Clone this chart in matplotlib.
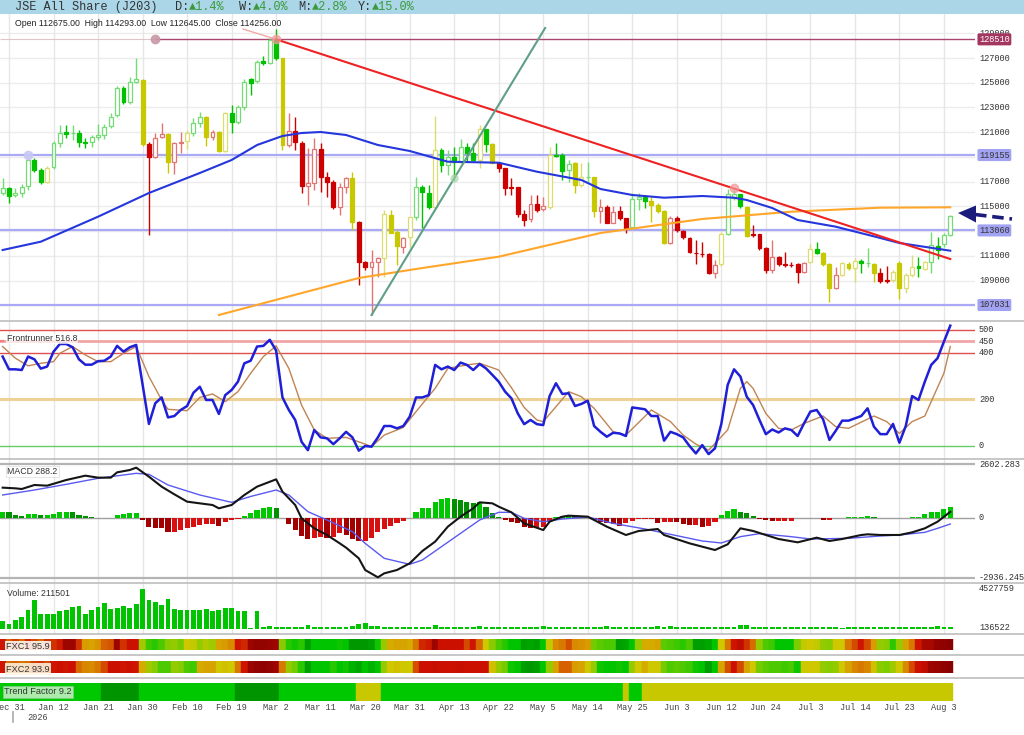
import numpy as np
import matplotlib
matplotlib.use("Agg")
import matplotlib.pyplot as plt
from matplotlib.colors import LinearSegmentedColormap
from matplotlib.lines import Line2D
from matplotlib.patches import Rectangle, Polygon

# ---------------- data ----------------
opens = [116059, 116463, 115924, 116113, 116679, 118754, 117946, 117002, 118160, 120155,
         121000, 120900, 120910, 120200, 120180, 120586, 120775, 121500, 122392, 124600,
         123470, 125087, 125222, 120047, 118970, 120586, 120830, 118619, 120100, 120317,
         120910, 121773, 122204, 120640, 121018, 119482, 122527, 121853, 123011, 125280,
         125168, 126760, 126623, 128456, 126974, 119966, 121126, 120155, 116679, 116867,
         119617, 117407, 117002, 114980, 116598, 117272, 113769, 110535, 110077, 110535,
         110804, 114307, 112900, 111747, 112502, 114173, 116598, 116113, 114981, 119563,
         118350, 118970, 118619, 119778, 119347, 118754, 121234, 120047, 118538, 118080,
         116598, 116544, 114388, 113957, 115196, 114765, 114981, 119158, 119158, 117946,
         118484, 116733, 117352, 117352, 114630, 114927, 113634, 114630, 114038, 113300,
         115600, 115735, 115439, 115089, 114630, 112070, 114038, 113014, 112421, 111262,
         111181, 111127, 109645, 110319, 112771, 115655, 115979, 114981, 112771, 112771,
         111666, 109860, 110938, 110346, 110300, 110346, 109672, 110480, 111531, 111208,
         110346, 108378, 109456, 110346, 110050, 110588, 110400, 110346, 109600, 109050,
         109052, 110454, 108378, 109456, 110184, 109914, 110534, 111828, 111963, 112675]
highs = [117272, 116600, 116463, 116786, 119158, 118900, 118100, 118300, 120300, 121584,
         121584, 121584, 121180, 120500, 120775, 121665, 121700, 122527, 124700, 124700,
         125492, 126974, 125300, 120200, 120910, 121773, 120900, 120236, 121045, 121180,
         122177, 122662, 122300, 121180, 121100, 122600, 123200, 123200, 125300, 125356,
         126840, 127200, 128726, 129318, 127000, 122527, 122257, 120300, 119697, 120506,
         120100, 117811, 117100, 116867, 117407, 117811, 113800, 110600, 111478, 110940,
         114711, 114711, 113094, 112556, 114173, 117400, 116700, 116733, 122311, 119700,
         119563, 119832, 120425, 120100, 120100, 121584, 121300, 120100, 118600, 118100,
         117272, 116600, 114711, 115924, 115924, 115790, 119832, 120100, 119300, 118754,
         118600, 118484, 118619, 117400, 115574, 115116, 115035, 115035, 114100, 116100,
         116110, 115924, 115790, 115250, 114700, 114200, 114200, 113094, 112556, 112286,
         112151, 111200, 110669, 112900, 116382, 116463, 116000, 115000, 113500, 112800,
         111700, 112286, 111000, 111343, 110500, 110400, 110500, 111963, 112151, 111300,
         110400, 110130, 110500, 110500, 110800, 110723, 111612, 110400, 110000, 110184,
         109860, 110600, 109600, 111073, 110939, 110600, 112960, 112556, 112825, 114293]
lows = [115924, 115300, 115790, 115790, 116328, 117800, 116800, 116900, 118000, 119832,
        120500, 120370, 119830, 119700, 119830, 120400, 120430, 121315, 122200, 123300,
        123300, 125000, 119900, 112700, 118900, 120500, 117676, 117622, 119293, 119617,
        120700, 121450, 119887, 120370, 119400, 119400, 120910, 121700, 122800, 124000,
        125000, 126400, 126500, 126800, 119600, 119832, 119563, 116059, 115116, 116328,
        116193, 115790, 114800, 114307, 116059, 113094, 108648, 109900, 106222, 109322,
        109322, 112825, 110266, 111208, 111747, 113900, 113229, 114800, 114800, 117811,
        117541, 117137, 118484, 118619, 118619, 118080, 119428, 118484, 117811, 115924,
        115924, 114173, 113418, 113768, 114577, 114657, 114765, 119020, 117137, 117002,
        116059, 116598, 117002, 114173, 113687, 113634, 113634, 113903, 112825, 113200,
        114700, 114846, 113768, 114441, 112000, 112000, 112900, 112400, 111208, 110346,
        110940, 109500, 109187, 110200, 112700, 115500, 114900, 112500, 112555, 111500,
        109591, 109591, 110200, 110130, 110100, 108782, 109591, 110400, 111154, 110200,
        107246, 108300, 109400, 109900, 108918, 109645, 110130, 108918, 108782, 108782,
        108900, 107489, 107974, 109300, 109321, 109860, 109591, 110723, 111747, 112645]
closes = [116463, 115870, 116113, 116598, 118754, 117946, 117002, 118080, 120155, 120964,
          120860, 120920, 120236, 120150, 120586, 120775, 121450, 122257, 124548, 123470,
          125087, 125280, 120047, 119024, 120506, 120830, 118619, 120100, 120236, 120900,
          121773, 122204, 120586, 121000, 119482, 122527, 121853, 123011, 125087, 125000,
          126704, 126623, 128456, 126974, 119966, 121126, 120236, 116679, 116867, 119617,
          117407, 116948, 114927, 116598, 117272, 113769, 110535, 110077, 110481, 110858,
          114388, 112879, 111828, 112421, 114119, 116598, 116194, 114981, 119563, 118350,
          118970, 118619, 119778, 119293, 118754, 121234, 120047, 118538, 118080, 116463,
          116463, 114388, 113903, 115196, 114711, 115035, 119158, 119100, 117864, 118404,
          116733, 117352, 117380, 114630, 114927, 113687, 114577, 114038, 113229, 115600,
          115750, 115466, 115089, 114657, 112070, 114038, 113094, 112502, 111343, 111208,
          111154, 109645, 110265, 112771, 116005, 115979, 115035, 112610, 112718, 111666,
          109860, 110938, 110346, 110300, 110260, 109672, 110453, 111531, 111208, 110346,
          108378, 109456, 110400, 110050, 110588, 110400, 110420, 109645, 108998, 108998,
          109726, 108378, 109456, 110130, 109995, 110480, 111882, 111477, 112690, 114256]
candle_trend = ("gggggggygg" "gggggggggg" "ggyrrryrry" "ggyryygggg" "ggggyrrrrr"
                "rrrrryrrrr" "yyyrygggyg" "gggggygyrr" "rrrrrryggg" "yygyrrrrrg"
                "ggyyyrrrrr" "rrrygggyrr" "rrrrrrrygy" "yryyyggyrr" "yyyygygggg")

# moving averages (bar index, value) read at line vertices
ma50_idx = [0, 6, 15, 23, 31, 36, 40, 44, 47, 50, 54, 59, 64, 70, 78, 84, 91, 94, 99, 104,
            110, 115, 117, 121, 125, 131, 138, 141, 149]
ma50_val = [111478, 112149, 114170, 116086, 117703, 118754, 119967, 120695, 120937, 121018,
            120775, 119967, 119482, 118616, 118536, 117808, 117137, 116409, 115924, 115706,
            115843, 115706, 115520, 114873, 113903, 113361, 112447, 112043, 111420]
ma200_idx = [34, 47, 56, 66, 78, 94, 110, 124, 138, 149]
ma200_val = [106222, 107994, 109214, 110022, 110936, 112852, 113984, 114575, 114898, 114930]

# drawn trend lines and levels
down_trend_idx = [43, 149]
down_trend_val = [128510, 110750]
down_trend_ext_idx = [37.8, 43]
down_trend_ext_val = [129345, 128510]
up_trend_idx = [58, 85.3]
up_trend_val = [106222, 129426]
resist_level = 128510
support_levels = [119155, 113060, 107031]
price_labels = [129000, 127000, 125000, 123000, 121000, 117000, 115000, 111000, 109000]

# Frontrunner oscillator
osc = [384, 329, 329, 326, 384, 372, 332, 341, 405, 438,
       438, 424, 372, 349, 349, 364, 366, 384, 430, 405,
       424, 434, 265, 94, 183, 208, 122, 128, 154, 171,
       228, 254, 197, 197, 137, 218, 240, 276, 355, 366,
       427, 430, 456, 410, 208, 154, 111, 17, -19, 68,
       36, 32, 7, 32, 60, 36, -21, -1, -4, 36,
       85, 85, 75, 85, 125, 208, 208, 218, 348, 329,
       341, 326, 358, 348, 326, 352, 333, 305, 276, 233,
       204, 139, 93, 111, 93, 89, 214, 269, 223, 226,
       171, 180, 194, 85, 60, 39, 56, 53, 42, 165,
       161, 157, 128, 128, 22, 60, 50, 36, -1, -33,
       3, -36, -11, 94, 262, 329, 298, 211, 175, 111,
       50, 70, 57, 75, 68, 42, 96, 147, 154, 114,
       25, 65, 108, 108, 118, 128, 161, 82, 50, 50,
       94, 13, 85, 214, 197, 276, 348, 377, 448, 517]
osc_sig_idx = [0, 2, 4, 6, 8, 9, 11, 13, 15, 17, 19, 21, 23, 25, 26, 29, 31, 33, 35, 37,
               39, 41, 43, 45, 47, 49, 51, 54, 57, 58, 60, 63, 65, 68, 70, 73, 75, 78, 80, 82,
               84, 85, 87, 89, 91, 93, 96, 98, 102, 105, 107, 109, 111, 114, 116, 117, 118, 120,
               122, 124, 126, 129, 131, 133, 137, 139, 141, 143, 145, 146, 148, 149]
osc_sig_val = [427, 377, 344, 355, 362, 398, 427, 391, 362, 362, 398, 427, 298, 197, 157, 151,
               208, 223, 190, 233, 312, 384, 430, 333, 175, 68, 32, 36, 7, -4, 46, 79, 147,
               247, 333, 348, 355, 326, 250, 165, 111, 104, 168, 233, 211, 161, 60, 46, 154,
               104, 46, 7, -19, 68, 247, 276, 247, 139, 75, 68, 96, 128, 82, 75, 128, 104, 53,
               104, 128, 190, 312, 427]
osc_levels = [500, 450, 400, 200, 0]

# MACD
macd_idx = [0, 2, 3, 5, 7, 10, 13, 15, 17, 18, 20, 21, 23, 25, 27, 29, 31, 33, 34, 36, 38, 40,
            43, 44, 46, 47, 49, 51, 53, 54, 56, 57, 59, 60, 62, 64, 66, 68, 70, 72, 74, 75, 77,
            78, 80, 82, 85, 86, 88, 89, 92, 95, 98, 100, 103, 104, 108, 110, 112, 114, 116,
            118, 120, 122, 125, 128, 130, 132, 135, 136, 138, 141, 143, 145, 147, 149]
macd_val = [1469, 1436, 1403, 1599, 1566, 1843, 2055, 1958, 1958, 2218, 2332, 2447, 2006,
            1518, 1143, 784, 702, 621, 458, 621, 1110, 1518, 1876, 1273, 621, -31, -520,
            -846, -1254, -1465, -1987, -2558, -2916, -2721, -2558, -2232, -1628, -1172, -438,
            50, 458, 751, 702, 540, 262, -277, -603, -196, 50, 99, 50, -439, -846, -650, -553,
            -846, -1254, -1417, -1580, -1302, -520, -650, -846, -1042, -1205, -976, -1139,
            -1042, -846, -813, -846, -846, -716, -520, -196, 288]
signal_idx = [0, 5, 10, 15, 21, 23, 26, 31, 36, 39, 43, 45, 48, 51, 55, 57, 60, 64, 66, 69,
              72, 75, 78, 80, 82, 85, 88, 92, 96, 101, 106, 110, 113, 116, 119, 124, 127, 133,
              138, 141, 145, 147, 149]
signal_val = [1110, 1354, 1632, 1925, 2169, 2121, 1599, 1110, 751, 1039, 1354, 1110, 295,
              -113, -683, -1254, -1987, -2280, -2069, -1417, -765, -113, 262, 262, -31, -196,
              -64, 34, -277, -553, -879, -1139, -1237, -928, -781, -928, -1042, -1009, -895,
              -846, -716, -520, -310]
hist = [295, 262, 132, 83, 181, 181, 116, 116, 165, 262,
        295, 262, 132, 83, 18, 5, 5, 3, 132, 165,
        214, 214, -113, -439, -488, -520, -716, -683, -602, -520,
        -439, -357, -324, -324, -390, -227, -129, -64, 83, 214,
        377, 458, 540, 491, -31, -324, -602, -879, -1042, -976,
        -928, -1009, -928, -765, -846, -1042, -1139, -1139, -1009, -683,
        -553, -390, -276, -163, -10, 262, 458, 491, 784, 914,
        947, 914, 866, 784, 702, 784, 540, 214, 49, -113,
        -196, -276, -439, -520, -520, -440, -196, 34, 83, 132,
        83, 34, 5, -113, -196, -276, -324, -390, -276, -163,
        -64, -64, -64, -243, -196, -196, -227, -324, -357, -357,
        -439, -390, -196, 132, 328, 409, 295, 214, 83, -64,
        -129, -163, -163, -163, -163, -30, -10, -5, 5, -113,
        -113, -5, 5, 34, 50, 50, 65, 34, 5, 5,
        -5, -30, 5, 34, 50, 165, 262, 295, 425, 540]
macd_max, macd_min = 2602.283, -2936.245

# volume
volume = [878000, 570000, 946000, 1334000, 2167000, 3307000, 1710000, 1631000, 1710000, 2018000,
          2167000, 2474000, 2623000, 1631000, 2167000, 2474000, 2931000, 2246000, 2315000, 2623000,
          2395000, 2851000, 4527759, 3307000, 3079000, 2703000, 3387000, 2246000, 2087000, 2087000,
          2167000, 2167000, 2281000, 2018000, 2167000, 2315000, 2315000, 2018000, 2018000, 40000,
          2018000, 190000, 300000, 190000, 170000, 170000, 180000, 200000, 420000, 230000,
          200000, 180000, 190000, 200000, 220000, 300000, 535000, 650000, 290000, 300000,
          230000, 190000, 200000, 230000, 180000, 160000, 160000, 170000, 420000, 190000,
          180000, 160000, 170000, 180000, 150000, 300000, 180000, 170000, 160000, 150000,
          150000, 160000, 170000, 180000, 190000, 285000, 200000, 180000, 170000, 180000,
          200000, 170000, 160000, 190000, 200000, 285000, 180000, 170000, 160000, 180000,
          170000, 160000, 200000, 285000, 200000, 260000, 180000, 170000, 160000, 180000,
          200000, 170000, 180000, 190000, 210000, 230000, 376000, 420000, 200000, 190000,
          200000, 180000, 170000, 180000, 190000, 200000, 180000, 170000, 160000, 200000,
          190000, 150000, 60000, 160000, 170000, 180000, 200000, 170000, 180000, 190000,
          230000, 200000, 180000, 170000, 180000, 190000, 200000, 300000, 228000, 211501]
vol_max, vol_min = 4527759, 136522

# colour strips (0 = strong green ... 100 = deep red)
fxc1 = [85, 72, 78, 70, 82, 76, 70, 80, 80, 84,
        95, 95, 80, 62, 60, 63, 72, 74, 95, 80,
        86, 86, 42, 28, 25, 30, 38, 40, 35, 50,
        48, 40, 45, 42, 60, 62, 65, 85, 82, 95,
        97, 97, 96, 95, 38, 25, 22, 25, 10, 20,
        20, 20, 20, 22, 20, 8, 8, 8, 10, 22,
        40, 58, 60, 60, 58, 68, 82, 84, 95, 86,
        86, 86, 86, 76, 85, 70, 50, 38, 30, 25,
        20, 20, 10, 12, 10, 20, 48, 65, 68, 75,
        65, 64, 62, 35, 32, 30, 30, 10, 12, 20,
        40, 58, 58, 60, 32, 30, 28, 25, 30, 10,
        10, 12, 20, 50, 68, 85, 88, 80, 70, 40,
        30, 28, 20, 20, 20, 36, 48, 50, 48, 40,
        38, 50, 50, 68, 76, 85, 76, 62, 40, 38,
        25, 40, 60, 68, 85, 93, 93, 97, 98, 99]
fxc2 = [85, 70, 72, 68, 70, 78, 80, 75, 85, 86,
        85, 86, 70, 66, 65, 68, 76, 86, 86, 85,
        86, 85, 58, 42, 38, 30, 30, 40, 38, 30,
        28, 58, 60, 60, 50, 52, 50, 68, 85, 95,
        97, 98, 97, 95, 68, 40, 35, 25, 10, 20,
        20, 20, 25, 20, 22, 15, 12, 20, 15, 20,
        40, 50, 52, 50, 50, 75, 86, 86, 87, 86,
        86, 86, 87, 86, 86, 86, 86, 52, 40, 35,
        22, 20, 10, 8, 10, 20, 40, 60, 72, 72,
        62, 60, 50, 40, 22, 20, 20, 22, 20, 40,
        50, 58, 50, 50, 35, 30, 32, 30, 28, 22,
        20, 10, 20, 60, 75, 86, 76, 60, 50, 35,
        32, 30, 30, 28, 30, 22, 50, 50, 50, 40,
        38, 40, 50, 60, 66, 68, 66, 52, 38, 36,
        42, 50, 65, 76, 86, 88, 95, 96, 98, 99]
# trend factor state runs: 0 green, 1 dark green, 2 yellow
trend_runs = [(0, 16), (1, 6), (0, 15), (1, 7), (0, 12), (2, 4), (0, 38), (2, 1), (0, 2), (2, 49)]

date_labels = ['Dec 31', 'Jan 12', 'Jan 21', 'Jan 30', 'Feb 10', 'Feb 19', 'Mar 2', 'Mar 11',
               'Mar 20', 'Mar 31', 'Apr 13', 'Apr 22', 'May 5', 'May 14', 'May 25', 'Jun 3',
               'Jun 12', 'Jun 24', 'Jul 3', 'Jul 14', 'Jul 23', 'Aug 3']

# ---------------- layout ----------------
W, H = 1024, 735
X0, DX = 2.64, 6.36          # pixel of bar 0, pixel step per bar
RIGHT = 975
XL, XR = (0 - X0) / DX, (RIGHT - X0) / DX
MONO = ['Liberation Mono', 'DejaVu Sans Mono']
SANS = ['Liberation Sans', 'DejaVu Sans']

idx = np.arange(len(closes))
grid_idx = np.arange(1, len(closes), 7)

fig = plt.figure(figsize=(W / 100, H / 100), dpi=100)
fig.patch.set_facecolor('white')


def panel(top, bottom, left=0, right=RIGHT, grid=True):
    a = fig.add_axes([left / W, 1 - bottom / H, (right - left) / W, (bottom - top) / H])
    for s in a.spines.values():
        s.set_visible(False)
    a.set_xlim(XL, XR)
    a.set_xticks(grid_idx)
    a.tick_params(left=False, bottom=False, labelleft=False, labelbottom=False)
    if grid:
        a.grid(axis='x', color='#e6e6e6', lw=1)
        a.set_axisbelow(True)
    a.patch.set_alpha(0)
    return a


def right_label(a, y, txt, **kw):
    a.text(979 / RIGHT, y, txt, transform=a.get_yaxis_transform(), ha='left', va='center',
           fontsize=6.2, family=MONO, color='#333333', clip_on=False, **kw)


def hline_px(y, x0=0, x1=W, color='#bdbdbd', lw=1.2):
    fig.add_artist(Line2D([x0 / W, x1 / W], [1 - y / H, 1 - y / H], color=color, lw=lw,
                          transform=fig.transFigure))


# title bar
fig.add_artist(Rectangle((0, 1 - 14 / H), 1, 14 / H, transform=fig.transFigure,
                         facecolor='#abd6e8', edgecolor='none'))
ty = 1 - 7.3 / H
fig.text(15 / W, ty, 'JSE All Share (J203)', family=MONO, fontsize=8.6, color='#333333', va='center')
for xp, key, val in [(175, 'D:', '▲1.4%'), (239, 'W:', '▲4.0%'), (298, 'M:', '▲2.8%'), (358, 'Y:', '▲15.0%')]:
    fig.text(xp / W, ty, key, family=MONO, fontsize=8.6, color='#333333', va='center')
    fig.text((xp + 14.3) / W, ty, val, family=MONO, fontsize=8.6, color='#3a9a3a', va='center')

# ---------------- price panel ----------------
ax = panel(14, 320)
ax.set_ylim(105818, 130558)
for lv in range(107000, 130000, 2000):
    ax.axhline(lv, color='#ececec', lw=1, zorder=0)

ax.hlines(resist_level, XL, 24, color='#e2c4c8', lw=0.8, zorder=1)
ax.hlines(resist_level, 24, XR, color='#a8466e', lw=1.0, zorder=1)
ax.hlines(support_levels, XL, XR, color='#a9a9f6', lw=1.6, zorder=1)

trend_col = {'g': '#00c000', 'r': '#cc0000', 'y': '#c8c800'}
light_col = {'g': '#74dc74', 'r': '#e27474', 'y': '#dcdc70'}
o = np.array(opens)
c = np.array(closes)
up = c >= o
face = [('white' if u else trend_col[t]) for u, t in zip(up, candle_trend)]
edge = [(light_col[t] if u else trend_col[t]) for u, t in zip(up, candle_trend)]
ax.vlines(idx, lows, highs, colors=edge, lw=1.0, zorder=3)
ax.bar(idx, np.maximum(np.abs(c - o), 40), bottom=np.minimum(o, c), width=0.62,
       color=face, edgecolor=edge, linewidth=0.9, zorder=3)

ax.plot(ma200_idx, ma200_val, color='#ffa62b', lw=1.5, zorder=4)
ax.plot(ma50_idx, ma50_val, color='#2436dc', lw=1.5, zorder=4)
ax.plot(down_trend_ext_idx, down_trend_ext_val, color='#f4a8a8', lw=1.0, zorder=5)
ax.plot(down_trend_idx, down_trend_val, color='#ee2222', lw=1.5, zorder=5)
ax.plot(up_trend_idx, up_trend_val, color='#5f9f86', lw=1.5, zorder=5)

ax.plot([43, 115], [resist_level, 116470], 'o', ms=6, color='#f29a9a', alpha=0.7, zorder=6)
ax.plot([24], [resist_level], 'o', ms=6, color='#c89aa8', alpha=0.9, zorder=6)
ax.plot([4], [support_levels[0]], 'o', ms=6, color='#c8c8f4', alpha=0.9, zorder=6)
ax.plot([71], [117300], 'o', ms=5, color='#a8d4a8', alpha=0.6, zorder=6)

for p in price_labels:
    right_label(ax, p, str(p))
right_label(ax, resist_level, str(resist_level), zorder=8,
            bbox=dict(boxstyle='round,pad=0.18', fc='#a3365f', ec='none'))
ax.texts[-1].set_color('white')
for p in support_levels:
    right_label(ax, p, str(p), zorder=8, bbox=dict(boxstyle='round,pad=0.18', fc='#a2a2f2', ec='none'))

fig.text(15 / W, 1 - 23.3 / H, 'Open 112675.00  High 114293.00  Low 112645.00  Close 114256.00',
         family=SANS, fontsize=6.3, color='#222222', va='center')

# dashed arrow at right edge
fig.add_artist(Line2D([975 / W, 1012 / W], [1 - 214.5 / H, 1 - 219 / H], color='#1b1b7c', lw=2.6,
                      dashes=(3.2, 1.6), transform=fig.transFigure))
fig.add_artist(Polygon([[958 / W, 1 - 213 / H], [976 / W, 1 - 205.5 / H], [976 / W, 1 - 222.5 / H]],
                       closed=True, transform=fig.transFigure, fc='#1b1b7c', ec='none'))

# ---------------- Frontrunner panel ----------------
ax2 = panel(321, 459)
ax2.set_ylim(-57, 537)
lvl_style = {500: ('#e05050', 1.0), 450: ('#f0a6a6', 2.0), 400: ('#e05050', 1.0),
             200: ('#ecd294', 2.2), 0: ('#66cc66', 1.0)}
for lv in osc_levels:
    col, lw = lvl_style[lv]
    ax2.axhline(lv, color=col, lw=lw, zorder=1)
    right_label(ax2, lv, str(lv))
ax2.plot(osc_sig_idx, osc_sig_val, color='#c08454', lw=1.0, zorder=3)
ax2.plot(idx, osc, color='#1f1fd8', lw=1.8, zorder=4)
ax2.text(7 / RIGHT, 0.87, 'Frontrunner 516.8', transform=ax2.transAxes, family=SANS, fontsize=6.3,
         color='#333333', va='center', zorder=6,
         bbox=dict(boxstyle='square,pad=0.1', fc='white', ec='none', alpha=0.7))
ax2.plot([XL, 0.1], [450, 450], color='#f08080', lw=1.5, zorder=5)

# ---------------- MACD panel ----------------
ax3 = panel(459, 582.5)
ax3.set_ylim(-3169, 2870)
ax3.axhline(macd_max, color='#b4b4b4', lw=1.6)
ax3.axhline(macd_min, color='#b4b4b4', lw=1.6)
ax3.axhline(0, color='#a0a0a0', lw=1.0)
h = np.array(hist)
rising = np.r_[True, np.diff(h) >= 0]
hcol = np.where(h >= 0, np.where(rising, '#00c800', '#009000'), np.where(rising, '#d81010', '#a20000'))
ax3.bar(idx, h, width=0.8, color=hcol, zorder=2)
ax3.plot(signal_idx, signal_val, color='#5a5af0', lw=1.0, zorder=3)
ax3.plot(macd_idx, macd_val, color='#151515', lw=1.5, zorder=4)
right_label(ax3, macd_max, '2602.283')
right_label(ax3, 0, '0')
right_label(ax3, macd_min, '-2936.245')
ax3.text(7 / RIGHT, 0.9, 'MACD 288.2', transform=ax3.transAxes, family=SANS, fontsize=6.3,
         color='#333333', va='center', zorder=6,
         bbox=dict(boxstyle='square,pad=0.15', fc='white', ec='#dddddd', lw=0.6, alpha=0.85))

# ---------------- volume panel ----------------
ax4 = panel(583.3, 634.3)
ax4.set_ylim(-638000, 5177000)
ax4.bar(idx, volume, width=0.75, color='#00c400', zorder=2)
right_label(ax4, vol_max, str(vol_max))
right_label(ax4, vol_min, str(vol_min))
ax4.text(7 / RIGHT, 0.8, 'Volume: 211501', transform=ax4.transAxes, family=SANS, fontsize=6.3,
         color='#333333', va='center', zorder=6)

# ---------------- colour strips ----------------
fx_cmap = LinearSegmentedColormap.from_list('fxc', [
    (0.0, '#007c00'), (0.2, '#00c400'), (0.36, '#7ccc00'), (0.5, '#cfc800'),
    (0.62, '#d99c00'), (0.75, '#d45000'), (0.86, '#cc1000'), (1.0, '#850000')])


def strip(top, bottom, cols, label, fc, ec):
    a = panel(top, bottom, grid=False)
    a.set_ylim(0, 1)
    a.bar(idx, 1, width=1.0, bottom=0, color=cols, edgecolor=cols, linewidth=0.3)
    a.text(6 / RIGHT, 0.32, label, transform=a.transAxes, family=SANS, fontsize=6.6,
           color='#333333', va='center', zorder=6,
           bbox=dict(boxstyle='square,pad=0.15', fc=fc, ec=ec, lw=0.6, alpha=0.85))
    return a


strip(639.3, 650, fx_cmap(np.array(fxc1) / 100), 'FXC1 95.9', 'white', 'none')
strip(660.7, 673.3, fx_cmap(np.array(fxc2) / 100), 'FXC2 93.9', '#fff6e6', 'none')

tf_palette = ['#00c800', '#009400', '#c8c800']
tf_cols = [tf_palette[s] for s, n in trend_runs for _ in range(n)]
ax5 = strip(683.3, 700.7, tf_cols, 'Trend Factor 9.2', '#ccf2cc', '#88cc88')
ax5.texts[-1].set_position((4 / RIGHT, 0.5))
ax5.set_xticks(grid_idx, date_labels)
ax5.tick_params(labelbottom=True, length=0, pad=1.8, labelsize=6.2, labelcolor='#444444')
for t in ax5.get_xticklabels():
    t.set_family(MONO)

fig.text(38 / W, 1 - 717 / H, '2026', family=MONO, fontsize=6.2, color='#444444', ha='center', va='center')
fig.add_artist(Line2D([12.5 / W, 12.5 / W], [1 - 712 / H, 1 - 722 / H], color='#aaaaaa', lw=1.2,
                      transform=fig.transFigure))

# panel separators
for y in [321, 459, 583.3, 634.3, 655, 678.3]:
    hline_px(y)

fig.savefig('out.png', dpi=100)
